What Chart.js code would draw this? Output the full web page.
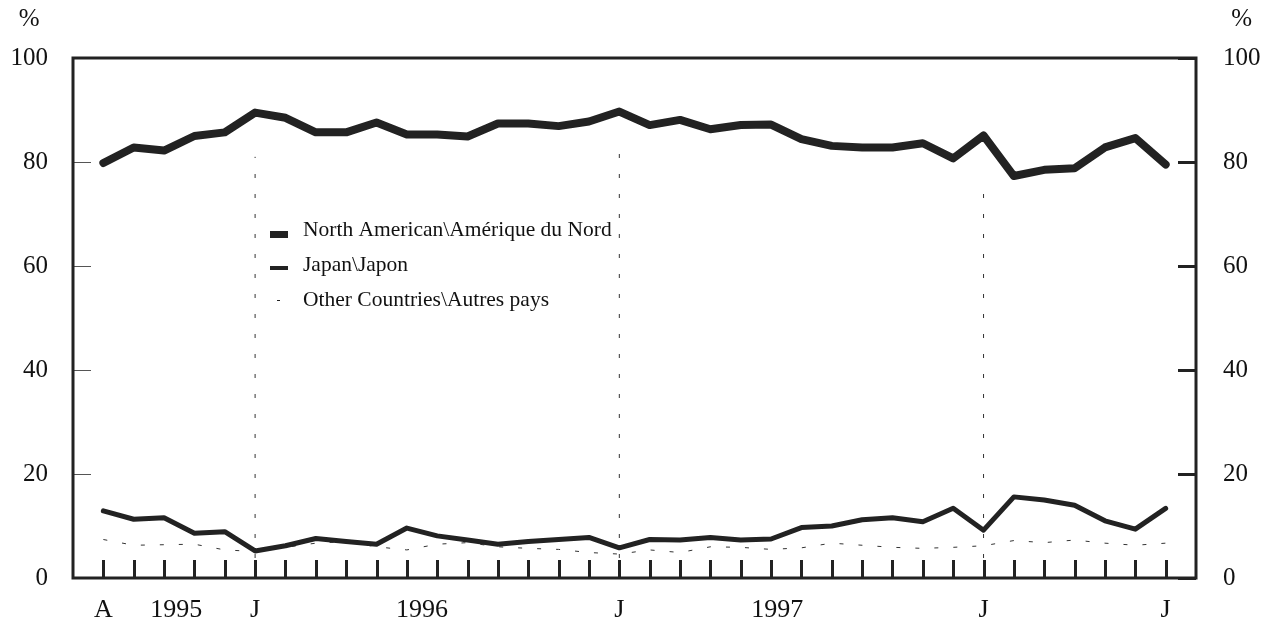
<!DOCTYPE html>
<html>
<head>
<meta charset="utf-8">
<script src="https://cdn.jsdelivr.net/npm/chart.js@4.4.1/dist/chart.umd.min.js"></script>
<style>
  html, body { margin: 0; padding: 0; background: #fff; }
  #wrap { width: 1271px; height: 626px; }
</style>
</head>
<body>
<div id="wrap"><canvas id="chart" width="1271" height="626"></canvas></div>
<script>
// mois d'août 1995 à juillet 1998
const months = ['A','S','O','N','D',
  'J','F','M','A','M','J','J','A','S','O','N','D',
  'J','F','M','A','M','J','J','A','S','O','N','D',
  'J','F','M','A','M','J','J'];
const northAmerica = [79.8, 82.8, 82.2, 85.0, 85.7, 89.5, 88.5, 85.7, 85.7, 87.6, 85.3, 85.3,
  84.9, 87.4, 87.4, 86.9, 87.8, 89.7, 87.1, 88.1, 86.3, 87.1, 87.2, 84.4,
  83.1, 82.8, 82.8, 83.6, 80.7, 85.1, 77.3, 78.5, 78.8, 82.8, 84.6, 79.5];
const japan = [12.9, 11.3, 11.6, 8.6, 8.9, 5.2, 6.2, 7.6, 7.0, 6.5, 9.6, 8.1,
  7.3, 6.5, 7.0, 7.4, 7.8, 5.8, 7.4, 7.3, 7.8, 7.3, 7.5, 9.7,
  10.0, 11.2, 11.6, 10.8, 13.4, 9.2, 15.6, 15.0, 14.0, 11.0, 9.4, 13.4];
const others = [7.4, 6.3, 6.4, 6.5, 5.4, 5.1, 5.9, 6.7, 7.0, 6.0, 5.4, 6.5,
  6.8, 6.0, 5.7, 5.5, 4.9, 4.6, 5.4, 4.9, 6.0, 5.9, 5.5, 5.8,
  6.7, 6.3, 5.9, 5.7, 5.9, 6.2, 7.2, 6.8, 7.3, 6.7, 6.3, 6.7];
const seriesNames = ['North American\\Amérique du Nord', 'Japan\\Japon', 'Other Countries\\Autres pays'];

// étiquettes de l'axe x
const shownMonths = [0, 5, 17, 29, 35];
const years = ['1995', '1996', '1997'];
const yearTicks = [2.4, 10.5, 22.2];

// séparateurs pointillés (mois de janvier)
const dividerMonths = [5, 17, 29];
const dividerTops = [81, 83.5, 74];

const yTicks = [0, 20, 40, 60, 80, 100];

const ink = '#222';
const serif = "'Liberation Serif', 'Times New Roman', serif";

const tickText = {};
shownMonths.forEach(i => { tickText[i] = months[i]; });
years.forEach((y, i) => { tickText[yearTicks[i]] = y; });

const toPoints = arr => arr.map((v, i) => ({ x: i, y: v }));

const datasets = [
  { label: seriesNames[0], data: toPoints(northAmerica), borderColor: ink, borderWidth: 8 },
  { label: seriesNames[1], data: toPoints(japan), borderColor: ink, borderWidth: 5 },
  { label: seriesNames[2], data: toPoints(others), borderColor: '#333', borderWidth: 1,
    borderDash: [4, 15], borderCapStyle: 'butt' }
];
dividerMonths.forEach((m, i) => {
  datasets.push({
    label: '', divider: true,
    data: [{ x: m, y: 0 }, { x: m, y: dividerTops[i] }],
    borderColor: '#333', borderWidth: 1, borderDash: [4, 16], borderCapStyle: 'butt'
  });
});

// cadre, graduations intérieures, légende et symboles %
const framePlugin = {
  id: 'frame',
  afterDraw(chart) {
    const { ctx, chartArea: a, scales } = chart;
    const xs = scales.x, ys = scales.y;
    ctx.save();
    ctx.strokeStyle = ink;

    // graduations mensuelles
    ctx.lineWidth = 3;
    months.forEach((m, i) => {
      const px = Math.round(xs.getPixelForValue(i)) + 0.5;
      ctx.beginPath();
      ctx.moveTo(px, a.bottom);
      ctx.lineTo(px, a.bottom - 18);
      ctx.stroke();
    });

    // graduations verticales
    yTicks.forEach(v => {
      const py = Math.round(ys.getPixelForValue(v));
      ctx.lineWidth = 1;
      ctx.strokeStyle = '#555';
      ctx.beginPath();
      ctx.moveTo(a.left, py + 0.5);
      ctx.lineTo(a.left + 18, py + 0.5);
      ctx.stroke();
      ctx.lineWidth = 3;
      ctx.strokeStyle = ink;
      ctx.beginPath();
      ctx.moveTo(a.right - 18, py + 0.5);
      ctx.lineTo(a.right, py + 0.5);
      ctx.stroke();
    });

    // cadre
    ctx.lineWidth = 3;
    ctx.strokeStyle = ink;
    ctx.strokeRect(a.left, a.top, a.right - a.left, a.bottom - a.top);

    // %
    ctx.fillStyle = '#111';
    ctx.font = '25px ' + serif;
    const w = ctx.measureText('100').width;
    ctx.textAlign = 'center';
    ctx.textBaseline = 'alphabetic';
    ctx.fillText('%', a.left - 25 - w / 2, 26);
    ctx.fillText('%', a.right + 27 + w / 2, 26);

    // légende
    ctx.font = '21.5px ' + serif;
    ctx.textAlign = 'left';
    ctx.textBaseline = 'middle';
    chart.data.datasets.filter(d => !d.divider).forEach((d, i) => {
      const y = a.top + 172 + i * 35;
      const sx = a.left + 197;
      ctx.fillStyle = ink;
      if (d.borderDash) {
        ctx.fillRect(sx + 7, Math.round(y), 3, 1);
      } else {
        const h = d.borderWidth - 1;
        ctx.fillRect(sx, Math.round(y + 4 - i - h / 2), 18, h);
      }
      ctx.fillStyle = '#111';
      ctx.fillText(d.label, sx + 33, y);
    });
    ctx.restore();
  }
};

new Chart(document.getElementById('chart'), {
  type: 'line',
  data: { datasets: datasets },
  options: {
    responsive: false,
    animation: false,
    devicePixelRatio: 1,
    layout: { padding: { top: 58, left: 0, right: 0, bottom: 0 } },
    elements: {
      point: { radius: 0 },
      line: { tension: 0, borderCapStyle: 'round', borderJoinStyle: 'round', fill: false }
    },
    plugins: {
      legend: { display: false },
      tooltip: { enabled: false }
    },
    scales: {
      x: {
        type: 'linear',
        min: -1,
        max: 36,
        grid: { display: false, drawTicks: false },
        border: { display: false },
        afterBuildTicks: scale => {
          scale.ticks = Object.keys(tickText).map(Number).sort((a, b) => a - b).map(v => ({ value: v }));
        },
        afterFit: scale => { scale.height = 48; },
        ticks: {
          autoSkip: false,
          maxRotation: 0,
          padding: 17,
          color: '#111',
          font: { family: serif, size: 26 },
          callback: v => tickText[v] || ''
        }
      },
      y: {
        position: 'left',
        min: 0,
        max: 100,
        grid: { display: false, drawTicks: false },
        border: { display: false },
        afterFit: scale => { scale.width = 73; },
        ticks: { stepSize: 20, padding: 25, color: '#111', font: { family: serif, size: 25 } }
      },
      y2: {
        position: 'right',
        min: 0,
        max: 100,
        grid: { display: false, drawTicks: false },
        border: { display: false },
        afterFit: scale => { scale.width = 75; },
        ticks: { stepSize: 20, padding: 27, color: '#111', font: { family: serif, size: 25 } }
      }
    }
  },
  plugins: [framePlugin]
});
</script>
</body>
</html>
